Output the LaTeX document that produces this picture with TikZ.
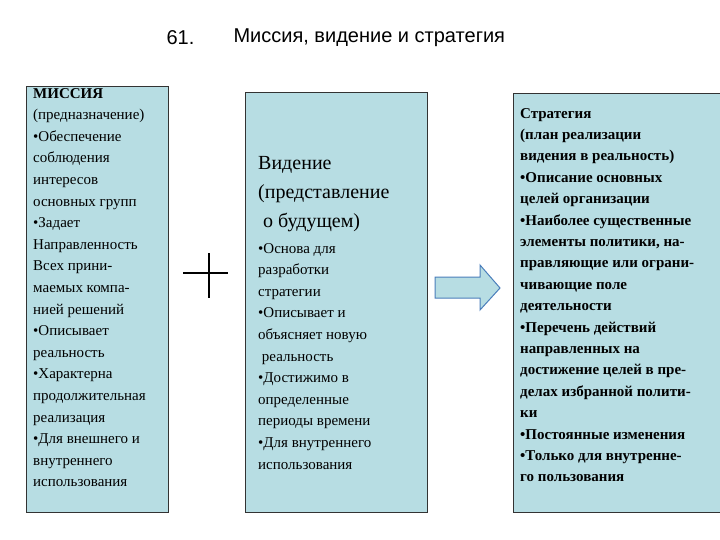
\documentclass[tikz,border=0pt]{standalone}
\usepackage{fontspec}
\setmainfont{Liberation Serif}
\setsansfont{Liberation Sans}
\definecolor{boxfill}{HTML}{B7DDE3}
\definecolor{arrowline}{HTML}{4A7EBB}
\tikzset{
  box/.style={draw=black!80, fill=boxfill, line width=0.8pt},
  txt/.style={anchor=north west, align=left, inner sep=0pt, font=\fontsize{15}{21.6}\selectfont},
  btxt/.style={anchor=north west, align=left, inner sep=0pt, font=\bfseries\fontsize{15}{21.4}\selectfont},
  head/.style={anchor=north west, align=left, inner sep=0pt, font=\fontsize{20}{29}\selectfont},
}
\begin{document}
\begin{tikzpicture}[x=1pt,y=-1pt]
\useasboundingbox (0,0) rectangle (720,540);
\clip (0,0) rectangle (720,540);
\node[font=\sffamily\fontsize{20}{24}\selectfont, anchor=west] (num) at (163,38) {61.};
\node[font=\sffamily\fontsize{20}{24}\selectfont, anchor=west] (title) at (230,38) {Миссия, видение и стратегия};
\draw[box] (26,86) rectangle (168,512);
\draw[box] (245,92) rectangle (427,512);
\draw[box] (513,93) rectangle (730,512);
\node[txt] (mission) at (33,88) {\textbf{МИССИЯ}\\(предназначение)\\•Обеспечение\\соблюдения\\интересов\\основных групп\\•Задает\\Направленность\\Всех прини-\\маемых компа-\\нией решений\\•Описывает\\реальность\\•Характерна\\продолжительная\\реализация\\•Для внешнего и\\внутреннего\\использования};
\node[head] (vhead) at (258,156) {Видение\\(представление\\\ о будущем)};
\node[txt] (vtext) at (258,243) {•Основа для\\разработки\\стратегии\\•Описывает и\\объясняет новую\\\ реальность\\•Достижимо в\\определенные\\периоды времени\\•Для внутреннего\\использования};
\node[btxt] (strat) at (520,108) {Стратегия\\(план реализации\\видения в реальность)\\•Описание основных\\целей организации\\•Наиболее существенные\\элементы политики, на-\\правляющие или ограни-\\чивающие поле\\деятельности\\•Перечень действий\\направленных на\\достижение целей в пре-\\делах избранной полити-\\ки\\•Постоянные изменения\\•Только для внутренне-\\го пользования};
\coordinate (ph1) at (183,273); \coordinate (ph2) at (228,273);
\coordinate (pv1) at (209,253); \coordinate (pv2) at (209,298);
\draw[line width=1.2pt] (ph1) -- (ph2) (pv1) -- (pv2);
\draw[draw=arrowline, fill=boxfill, line width=1pt, line join=miter]
  (435,277) -- (480,277) -- (480,265) -- (500,288) -- (480,310) -- (480,298) -- (435,298) -- cycle;
\end{tikzpicture}
\end{document}
